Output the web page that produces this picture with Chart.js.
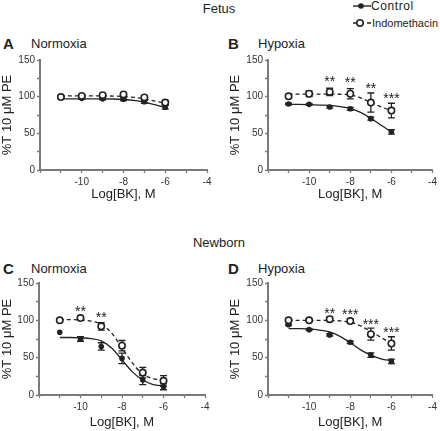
<!DOCTYPE html>
<html>
<head>
    <title>BK concentration-response</title>
    <script src="https://cdn.jsdelivr.net/npm/chart.js"></script>
    <style>
        body { margin: 0; background: #fff; font-family: "Liberation Sans", Arial, sans-serif; color: #222; }
        #wrap { position: relative; width: 440px; height: 431px; overflow: hidden; }
        .abs { position: absolute; white-space: nowrap; line-height: 1; }
        .group { font-size: 13px; transform: translateX(-50%); }
        .letter { font-size: 15px; font-weight: bold; }
        .cond { font-size: 13px; }
        .leg { font-size: 11px; display: flex; align-items: center; }
        canvas { position: absolute; }
    </style>
</head>
<body>
<div id="wrap">
    <div class="abs group" style="left:219px; top:2px;">Fetus</div>
    <div class="abs group" style="left:219px; top:236px;">Newborn</div>

    <div class="abs leg" style="left:352px; top:0px;">
        <svg width="19" height="12"><line x1="1" y1="6" x2="19" y2="6" stroke="#222" stroke-width="1.4"/><circle cx="9" cy="6" r="2.8" fill="#222"/></svg>
        <span style="font-size:12px; letter-spacing:0.6px">Control</span>
    </div>
    <div class="abs leg" style="left:352px; top:17px;">
        <svg width="20" height="12"><line x1="1" y1="6" x2="19" y2="6" stroke="#222" stroke-width="1.4" stroke-dasharray="4 3"/><circle cx="8" cy="6" r="3.2" fill="#fff" stroke="#222" stroke-width="1.6"/></svg>
        <span>Indomethacin</span>
    </div>

    <div class="abs letter" style="left:3px; top:36px;">A</div>
    <div class="abs cond" style="left:31px; top:37px;">Normoxia</div>
    <div class="abs letter" style="left:228px; top:36px;">B</div>
    <div class="abs cond" style="left:258px; top:37px;">Hypoxia</div>
    <div class="abs letter" style="left:3px; top:261px;">C</div>
    <div class="abs cond" style="left:31px; top:262px;">Normoxia</div>
    <div class="abs letter" style="left:228px; top:261px;">D</div>
    <div class="abs cond" style="left:258px; top:262px;">Hypoxia</div>

    <canvas id="chartA" width="215" height="152" style="left:0px; top:50px;"></canvas>
    <canvas id="chartB" width="212" height="152" style="left:228px; top:50px;"></canvas>
    <canvas id="chartC" width="213" height="157" style="left:0px; top:273px;"></canvas>
    <canvas id="chartD" width="212" height="157" style="left:228px; top:273px;"></canvas>
</div>

<script>
    const doses = [-11, -10, -9, -8, -7, -6];
    const fitX = [-11, -10.5, -10, -9.5, -9, -8.5, -8, -7.5, -7, -6.5, -6];

    // A - fetus normoxia
    const ctrlA = [99.5, 97.7, 97, 96.5, 93, 85.5];
    const ctrlErrA = [1, 1.5, 1.5, 2, 2, 2.5];
    const indoA = [99.5, 101, 102, 103, 99, 92];
    const indoErrA = [1, 2, 2, 2, 2, 3];
    const ctrlFitA = [97, 97, 97, 97, 97, 96.8, 96.2, 95, 92.5, 89, 85.5];
    const indoFitA = [101, 101, 101, 101, 101, 100.8, 100.3, 99, 97, 94, 91];

    // B - fetus hypoxia
    const ctrlB = [90, 89.5, 86, 83.5, 70, 52];
    const ctrlErrB = [1, 1, 1.5, 2, 2, 3];
    const indoB = [100.5, 104, 106.5, 104, 92, 81];
    const indoErrB = [2, 4, 5, 7, 13, 10];
    const ctrlFitB = [89.5, 89.5, 89, 88.5, 88, 86.5, 84, 78.5, 70.5, 61, 52];
    const indoFitB = [103.5, 103.5, 103.5, 103.5, 103.5, 103.3, 102.5, 98.5, 92, 86, 81];
    const starXB = [-9, -8, -7, -6];
    const starYB = [125, 124, 116, 102];
    const starTB = ['**', '**', '**', '***'];

    // C - newborn normoxia
    const ctrlC = [84, 75, 65, 49, 20, 11];
    const ctrlErrC = [0, 3, 5, 7, 6, 4];
    const indoC = [100, 103, 92, 66, 30, 19];
    const indoErrC = [1, 1.5, 5, 7, 7, 7];
    const ctrlFitC = [77, 77, 76.5, 75.5, 72.5, 63, 47, 31, 20, 14, 12];
    const indoFitC = [101, 101, 100.5, 99, 95, 83, 63, 43, 28, 22, 20];
    const starXC = [-10, -9];
    const starYC = [117, 108];
    const starTC = ['**', '**'];

    // D - newborn hypoxia
    const ctrlD = [94, 87.5, 80.5, 70.5, 53.5, 45];
    const ctrlErrD = [1, 1, 1.5, 1.5, 3, 3];
    const indoD = [100, 100, 101.5, 99, 81.5, 69];
    const indoErrD = [1, 1.5, 3, 3, 8, 9];
    const ctrlFitD = [89, 89, 88.5, 87, 84.5, 78.5, 70, 60.5, 53.5, 48.5, 46];
    const indoFitD = [100, 100, 100, 100, 99.8, 99.2, 97.5, 92.5, 85, 77, 69];
    const starXD = [-9, -8, -7, -6];
    const starYD = [114, 112.5, 99, 88.5];
    const starTD = ['**', '***', '***', '***'];

    const INK = '#222';
    const AXIS = '#7a7a7a';
    const FONT = '"Liberation Sans", Arial, sans-serif';

    const toXY = (xs, ys) => xs.map((x, i) => ({ x: x, y: ys[i] }));

    // error bars under the markers, asterisks on top
    const extras = {
        id: 'extras',
        beforeDatasetsDraw(chart) {
            const ctx = chart.ctx, xs = chart.scales.x, ys = chart.scales.y;
            ctx.save();
            ctx.strokeStyle = INK;
            ctx.lineWidth = 1.3;
            chart.data.datasets.forEach(ds => {
                if (!ds.errors) return;
                ds.data.forEach((p, i) => {
                    const e = ds.errors[i];
                    if (!e) return;
                    const px = xs.getPixelForValue(p.x);
                    const top = ys.getPixelForValue(p.y + e);
                    const bot = ys.getPixelForValue(p.y - e);
                    ctx.beginPath();
                    ctx.moveTo(px, top); ctx.lineTo(px, bot);
                    ctx.moveTo(px - 3.5, top); ctx.lineTo(px + 3.5, top);
                    ctx.moveTo(px - 3.5, bot); ctx.lineTo(px + 3.5, bot);
                    ctx.stroke();
                });
            });
            ctx.restore();
        },
        afterDatasetsDraw(chart, args, opts) {
            if (!opts.starX) return;
            const ctx = chart.ctx, xs = chart.scales.x, ys = chart.scales.y;
            ctx.save();
            ctx.fillStyle = INK;
            ctx.font = '14px ' + FONT;
            ctx.textAlign = 'center';
            ctx.textBaseline = 'alphabetic';
            opts.starX.forEach((x, i) => {
                ctx.fillText(opts.starT[i], xs.getPixelForValue(x), ys.getPixelForValue(opts.starY[i]) + 8);
            });
            ctx.restore();
        }
    };

    function makePanel(id, ctrl, ctrlErr, indo, indoErr, ctrlFit, indoFit, stars, pad) {
        const ctx = document.getElementById(id).getContext('2d');
        return new Chart(ctx, {
            type: 'scatter',
            data: {
                datasets: [
                    {
                        label: 'Indomethacin',
                        data: toXY(doses, indo),
                        errors: indoErr,
                        pointRadius: 3.2,
                        pointBorderWidth: 1.6,
                        pointBackgroundColor: '#fff',
                        pointBorderColor: INK,
                        showLine: false,
                        order: 0
                    },
                    {
                        label: 'Control',
                        data: toXY(doses, ctrl),
                        errors: ctrlErr,
                        pointRadius: 2.8,
                        pointBackgroundColor: INK,
                        pointBorderColor: INK,
                        pointBorderWidth: 0,
                        showLine: false,
                        order: 1
                    },
                    {
                        type: 'line',
                        data: toXY(fitX, indoFit),
                        borderColor: INK,
                        borderWidth: 1.3,
                        borderDash: [4, 3],
                        pointRadius: 0,
                        cubicInterpolationMode: 'monotone',
                        fill: false,
                        order: 2
                    },
                    {
                        type: 'line',
                        data: toXY(fitX, ctrlFit),
                        borderColor: INK,
                        borderWidth: 1.3,
                        pointRadius: 0,
                        cubicInterpolationMode: 'monotone',
                        fill: false,
                        order: 3
                    }
                ]
            },
            options: {
                responsive: false,
                animation: false,
                events: [],
                layout: { padding: { top: 10, right: pad.right, left: 0, bottom: 0 } },
                plugins: {
                    legend: { display: false },
                    tooltip: { enabled: false },
                    extras: stars
                },
                scales: {
                    x: {
                        type: 'linear',
                        min: -12,
                        max: -4,
                        border: { color: AXIS, width: 2 },
                        grid: { drawOnChartArea: false, tickLength: 3, tickColor: AXIS, tickWidth: 1.3 },
                        ticks: {
                            stepSize: 1,
                            color: '#333',
                            padding: 3,
                            maxRotation: 0,
                            autoSkip: false,
                            font: { family: FONT, size: 10 },
                            callback: v => (v % 2 === 0 && v !== -12) ? v : ''
                        },
                        title: {
                            display: true,
                            text: 'Log[BK], M',
                            color: '#222',
                            padding: 0,
                            font: { family: FONT, size: 13 }
                        },
                        afterFit: s => { s.height = pad.xh; }
                    },
                    y: {
                        min: 0,
                        max: 150,
                        border: { color: AXIS, width: 2 },
                        grid: { drawOnChartArea: false, tickLength: 3, tickColor: AXIS, tickWidth: 1.3 },
                        ticks: {
                            stepSize: 25,
                            color: '#333',
                            padding: 2,
                            autoSkip: false,
                            font: { family: FONT, size: 10 },
                            callback: v => (v % 50 === 0) ? v : ''
                        },
                        title: {
                            display: true,
                            text: '%T 10 μM PE',
                            color: '#222',
                            padding: 0,
                            font: { family: FONT, size: 13 }
                        },
                        afterFit: s => { s.width = pad.yw; }
                    }
                }
            },
            plugins: [extras]
        });
    }

    makePanel('chartA', ctrlA, ctrlErrA, indoA, indoErrA, ctrlFitA, indoFitA, {}, { right: 8, xh: 32, yw: 40 });
    makePanel('chartB', ctrlB, ctrlErrB, indoB, indoErrB, ctrlFitB, indoFitB,
        { starX: starXB, starY: starYB, starT: starTB }, { right: 7, xh: 32, yw: 40 });
    makePanel('chartC', ctrlC, ctrlErrC, indoC, indoErrC, ctrlFitC, indoFitC,
        { starX: starXC, starY: starYC, starT: starTC }, { right: 8, xh: 35, yw: 39 });
    makePanel('chartD', ctrlD, ctrlErrD, indoD, indoErrD, ctrlFitD, indoFitD,
        { starX: starXD, starY: starYD, starT: starTD }, { right: 7, xh: 35, yw: 40 });
</script>
</body>
</html>
